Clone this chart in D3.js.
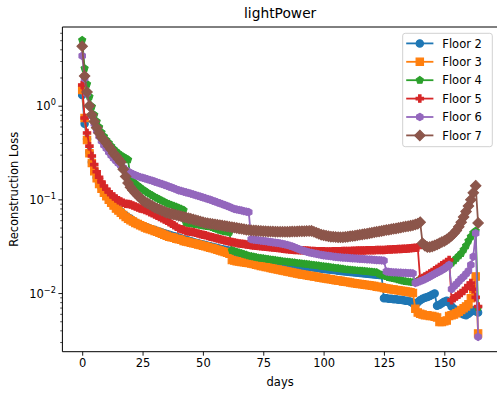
<!DOCTYPE html>
<html>
<head>
<meta charset="utf-8">
<script src="https://cdn.jsdelivr.net/npm/d3@7"></script>
<style>
  body { margin: 0; background: #fff; }
  svg { display: block; }
  text { font-family: "DejaVu Sans", sans-serif; fill: #000; }
</style>
</head>
<body>
<svg id="chart" width="497" height="394"></svg>
<script>
// Daily reconstruction loss of the lightPower sensor, one array per floor (day 0 .. 164)
const floor2 = [1.30,0.64,0.44,0.32,0.25,0.205,0.172,0.150,0.134,0.121,
0.111,0.102,0.095,0.089,0.083,0.078,0.074,0.070,0.067,0.064,
0.062,0.059,0.057,0.055,0.054,0.052,0.051,0.050,0.049,0.048,
0.047,0.046,0.045,0.0443,0.0435,0.0427,0.0420,0.0412,0.0405,0.0398,
0.0390,0.0383,0.0376,0.0370,0.0363,0.0357,0.0350,0.0345,0.0340,0.0334,
0.0330,0.0325,0.0320,0.0316,0.0311,0.0307,0.0302,0.0298,0.0294,0.0290,
0.0286,0.0282,0.0266,0.0262,0.0258,0.0255,0.0251,0.0248,0.0245,0.0242,
0.0239,0.0236,0.0233,0.0231,0.0228,0.0226,0.0224,0.0222,0.0220,0.0218,
0.0216,0.0214,0.0212,0.0210,0.0208,0.0206,0.0204,0.0202,0.0200,0.0198,
0.0196,0.0194,0.0193,0.0191,0.0190,0.0188,0.0187,0.0185,0.0184,0.0182,
0.0181,0.0180,0.0178,0.0177,0.0176,0.0175,0.0173,0.0172,0.0171,0.0170,
0.0169,0.0168,0.0167,0.0166,0.0165,0.0164,0.0163,0.0162,0.0161,0.0160,
0.0159,0.0158,0.0157,0.0156,0.0155,0.0088,0.0088,0.0087,0.0087,0.0086,
0.0086,0.0085,0.0085,0.0084,0.0083,0.0083,0.0081,0.0078,0.0075,0.0080,
0.0084,0.0087,0.0089,0.0091,0.0093,0.0096,0.0099,0.0073,0.0075,0.0078,
0.0081,0.0083,0.0079,0.0072,0.0068,0.0065,0.0063,0.0061,0.0059,0.0058,
0.0060,0.0063,0.0066,0.0064,0.0062];

const floor3 = [1.47,0.74,0.43,0.31,0.245,0.200,0.168,0.146,0.130,0.118,
0.108,0.099,0.092,0.086,0.080,0.076,0.072,0.068,0.065,0.062,
0.060,0.058,0.056,0.0545,0.053,0.0515,0.050,0.049,0.048,0.047,
0.046,0.045,0.044,0.043,0.042,0.041,0.040,0.0395,0.039,0.038,
0.0375,0.037,0.036,0.0355,0.035,0.0345,0.034,0.0335,0.033,0.0325,
0.032,0.0315,0.031,0.0305,0.030,0.0295,0.029,0.0285,0.028,0.0275,
0.027,0.0262,0.0225,0.0222,0.0219,0.0217,0.0215,0.0213,0.0211,0.0209,
0.0207,0.0204,0.0201,0.0198,0.0195,0.0193,0.0190,0.0188,0.0185,0.0183,
0.0181,0.0178,0.0176,0.0174,0.0172,0.0170,0.0168,0.0166,0.0164,0.0162,
0.0160,0.0158,0.0157,0.0155,0.0153,0.0152,0.0150,0.0149,0.0147,0.0146,
0.0144,0.0143,0.0141,0.0140,0.0139,0.0137,0.0136,0.0135,0.0133,0.0132,
0.0131,0.0130,0.0128,0.0127,0.0126,0.0125,0.0124,0.0123,0.0122,0.0121,
0.0120,0.0119,0.0117,0.0116,0.0115,0.0113,0.0112,0.0111,0.0110,0.0109,
0.0108,0.0107,0.0106,0.0105,0.0104,0.0103,0.0102,0.0100,0.0068,0.0062,
0.0060,0.0059,0.0058,0.0058,0.0057,0.0057,0.0056,0.0055,0.0049,0.0049,
0.0050,0.0051,0.0057,0.0058,0.0059,0.0061,0.0063,0.0066,0.0069,0.0072,
0.0076,0.0088,0.0110,0.0150,0.0037];

const floor4 = [5.0,2.5,1.70,1.25,0.98,0.80,0.68,0.59,0.52,0.47,
0.43,0.40,0.37,0.345,0.325,0.31,0.295,0.285,0.275,0.265,
0.165,0.155,0.147,0.140,0.134,0.128,0.123,0.118,0.114,0.110,
0.106,0.103,0.100,0.097,0.094,0.091,0.089,0.087,0.085,0.083,
0.081,0.079,0.077,0.056,0.0555,0.055,0.0545,0.054,0.0535,0.053,
0.0525,0.052,0.0515,0.051,0.050,0.049,0.048,0.047,0.046,0.0455,
0.045,0.0445,0.0285,0.0280,0.0275,0.0270,0.0265,0.0260,0.0255,0.0250,
0.0247,0.0244,0.0241,0.0238,0.0236,0.0234,0.0232,0.0230,0.0228,0.0226,
0.0224,0.0222,0.0220,0.0218,0.0217,0.0215,0.0214,0.0212,0.0211,0.0209,
0.0208,0.0206,0.0205,0.0203,0.0202,0.0200,0.0199,0.0197,0.0196,0.0194,
0.0193,0.0191,0.0190,0.0188,0.0187,0.0185,0.0184,0.0182,0.0181,0.0179,
0.0178,0.0177,0.0176,0.0175,0.0174,0.0173,0.0172,0.0171,0.0170,0.0169,
0.0168,0.0167,0.0166,0.0160,0.0156,0.0153,0.0150,0.0147,0.0145,0.0143,
0.0141,0.0139,0.0137,0.0135,0.0133,0.0132,0.0131,0.0130,0.0130,0.0135,
0.0140,0.0145,0.0148,0.0152,0.0156,0.0160,0.0165,0.0170,0.0175,0.0180,
0.0185,0.0192,0.0200,0.0210,0.0222,0.0235,0.0250,0.0265,0.0290,0.0320,
0.0360,0.0400,0.0440,0.0460,0.0070];

const floor5 = [1.66,0.74,0.51,0.37,0.29,0.235,0.197,0.172,0.153,0.139,
0.128,0.120,0.113,0.107,0.102,0.098,0.095,0.092,0.090,0.089,
0.088,0.086,0.084,0.082,0.080,0.079,0.077,0.075,0.073,0.071,
0.069,0.067,0.065,0.063,0.061,0.059,0.057,0.055,0.053,0.051,
0.049,0.048,0.047,0.046,0.0455,0.045,0.0445,0.044,0.0432,0.0425,
0.042,0.0413,0.0407,0.040,0.0394,0.0388,0.0382,0.0376,0.037,0.0365,
0.036,0.0355,0.035,0.0346,0.0342,0.0339,0.0336,0.0333,0.0330,0.0327,
0.0324,0.0322,0.0320,0.0318,0.0316,0.0314,0.0312,0.0310,0.0308,0.0306,
0.0304,0.0302,0.0300,0.0298,0.0296,0.0294,0.0292,0.0290,0.0289,0.0288,
0.0287,0.0286,0.0285,0.0284,0.0283,0.0282,0.0281,0.0280,0.0280,0.0279,
0.0279,0.0278,0.0278,0.0278,0.0279,0.0279,0.0280,0.0280,0.0281,0.0281,
0.0282,0.0282,0.0283,0.0283,0.0284,0.0284,0.0285,0.0285,0.0286,0.0286,
0.0287,0.0287,0.0288,0.0288,0.0289,0.0289,0.0290,0.0291,0.0292,0.0293,
0.0294,0.0295,0.0296,0.0297,0.0298,0.0299,0.0300,0.0302,0.0304,0.0306,
0.0140,0.0145,0.0150,0.0156,0.0162,0.0168,0.0175,0.0182,0.0190,0.0198,
0.0206,0.0215,0.0225,0.0084,0.0088,0.0092,0.0096,0.0100,0.0105,0.0112,
0.0120,0.0128,0.0110,0.0090,0.0072];

const floor6 = [3.4,1.95,1.35,1.00,0.78,0.64,0.54,0.47,0.42,0.38,
0.35,0.32,0.295,0.275,0.258,0.243,0.230,0.218,0.206,0.197,
0.192,0.186,0.181,0.177,0.173,0.170,0.167,0.164,0.161,0.158,
0.155,0.152,0.149,0.146,0.143,0.140,0.137,0.134,0.131,0.128,
0.125,0.123,0.121,0.119,0.117,0.115,0.113,0.111,0.109,0.107,
0.105,0.103,0.101,0.099,0.097,0.095,0.093,0.091,0.089,0.087,
0.085,0.083,0.081,0.079,0.078,0.077,0.076,0.075,0.074,0.073,
0.0375,0.0372,0.0369,0.0366,0.0363,0.0360,0.0357,0.0354,0.0351,0.0348,
0.0345,0.0342,0.0339,0.0335,0.0331,0.0326,0.0320,0.0314,0.0307,0.0300,
0.0293,0.0287,0.0281,0.0276,0.0272,0.0268,0.0265,0.0262,0.0259,0.0256,
0.0253,0.0251,0.0249,0.0247,0.0245,0.0243,0.0241,0.0240,0.0239,0.0238,
0.0237,0.0236,0.0235,0.0234,0.0233,0.0232,0.0231,0.0230,0.0229,0.0228,
0.0227,0.0226,0.0225,0.0224,0.0223,0.0222,0.0170,0.0168,0.0167,0.0166,
0.0166,0.0165,0.0165,0.0164,0.0164,0.0163,0.0163,0.0162,0.0128,0.0131,
0.0134,0.0137,0.0141,0.0145,0.0150,0.0155,0.0160,0.0165,0.0170,0.0176,
0.0182,0.0190,0.0200,0.0110,0.0118,0.0125,0.0133,0.0142,0.0150,0.0160,
0.0172,0.0200,0.0245,0.0435,0.0034];

const floor7 = [4.3,2.07,1.40,1.00,0.80,0.68,0.58,0.51,0.46,0.43,
0.40,0.37,0.34,0.31,0.29,0.27,0.25,0.21,0.175,0.150,
0.135,0.125,0.117,0.110,0.104,0.098,0.094,0.091,0.088,0.085,
0.082,0.080,0.078,0.076,0.074,0.072,0.071,0.070,0.069,0.068,
0.067,0.066,0.065,0.064,0.063,0.062,0.061,0.060,0.059,0.058,
0.057,0.056,0.0555,0.055,0.0545,0.054,0.0535,0.053,0.0525,0.052,
0.0515,0.051,0.0505,0.050,0.0495,0.049,0.0485,0.048,0.0475,0.047,
0.0468,0.0466,0.0464,0.0462,0.0460,0.0458,0.0456,0.0455,0.0454,0.0453,
0.0452,0.0451,0.0450,0.0450,0.0450,0.0451,0.0452,0.0453,0.0454,0.0455,
0.0456,0.0457,0.0458,0.0459,0.0460,0.0461,0.0450,0.0440,0.0430,0.0420,
0.0415,0.0410,0.0405,0.0400,0.0398,0.0396,0.0395,0.0394,0.0395,0.0397,
0.0400,0.0403,0.0406,0.0410,0.0414,0.0418,0.0422,0.0426,0.0430,0.0435,
0.0440,0.0445,0.0450,0.0455,0.0460,0.0465,0.0470,0.0475,0.0480,0.0485,
0.0490,0.0495,0.0500,0.0506,0.0512,0.0518,0.0524,0.0530,0.0540,0.0550,
0.0570,0.0340,0.0320,0.0310,0.0310,0.0315,0.0322,0.0330,0.0340,0.0350,
0.0360,0.0372,0.0390,0.0410,0.0435,0.0465,0.0510,0.0570,0.0650,0.0740,
0.0850,0.0990,0.1180,0.1400,0.0560];

const seriesNames = ["Floor 2", "Floor 3", "Floor 4", "Floor 5", "Floor 6", "Floor 7"];
const seriesValues = [floor2, floor3, floor4, floor5, floor6, floor7];
const seriesColors = ["#1f77b4", "#ff7f0e", "#2ca02c", "#d62728", "#9467bd", "#8c564b"];
const seriesMarkers = ["circle", "square", "pentagon", "plus", "hexagon", "diamond"];

const xTicks = [0, 25, 50, 75, 100, 125, 150];
const yMajorExps = [-2, -1, 0];
const titleText = "lightPower";
const xLabelText = "days";
const yLabelText = "Reconstruction Loss";

// ---- layout ----
const svg = d3.select("#chart");
const plot = { left: 62.4, right: 497.9, top: 27, bottom: 351.7 };

const x = d3.scaleLinear().domain([-8.2, 172.2]).range([plot.left, plot.right]);
const y = d3.scaleLog().domain([Math.pow(10, -2.626), Math.pow(10, 0.840)]).range([plot.bottom, plot.top]);

// marker shapes, size = nominal marker size in px
function markerPath(kind, s) {
  const r = s / 2;
  const p = d3.path();
  const poly = (n) => {
    for (let k = 0; k < n; k++) {
      const a = -Math.PI / 2 + k * 2 * Math.PI / n;
      const px = r * Math.cos(a), py = r * Math.sin(a);
      if (k === 0) p.moveTo(px, py); else p.lineTo(px, py);
    }
    p.closePath();
  };
  if (kind === "circle") { p.arc(0, 0, r, 0, 2 * Math.PI); p.closePath(); }
  else if (kind === "square") { p.rect(-r, -r, s, s); }
  else if (kind === "pentagon") { poly(5); }
  else if (kind === "hexagon") { poly(6); }
  else if (kind === "diamond") {
    const d = s * Math.SQRT1_2;
    p.moveTo(0, -d); p.lineTo(d, 0); p.lineTo(0, d); p.lineTo(-d, 0); p.closePath();
  } else if (kind === "plus") {
    const w = s / 6;
    p.moveTo(-w, -r); p.lineTo(w, -r); p.lineTo(w, -w); p.lineTo(r, -w); p.lineTo(r, w);
    p.lineTo(w, w); p.lineTo(w, r); p.lineTo(-w, r); p.lineTo(-w, w); p.lineTo(-r, w);
    p.lineTo(-r, -w); p.lineTo(-w, -w); p.closePath();
  }
  return p.toString();
}

const MARKER = 7.4, MARKER_EDGE = 1.1, LINE_W = 1.8;

svg.append("defs").append("clipPath").attr("id", "plotClip")
  .append("rect")
  .attr("x", plot.left).attr("y", plot.top)
  .attr("width", plot.right - plot.left).attr("height", plot.bottom - plot.top);

const body = svg.append("g").attr("clip-path", "url(#plotClip)");
const line = d3.line().x((d, i) => x(i)).y(d => y(d));

seriesValues.forEach((vals, si) => {
  const g = body.append("g");
  g.append("path")
    .attr("d", line(vals))
    .attr("fill", "none")
    .attr("stroke", seriesColors[si])
    .attr("stroke-width", LINE_W)
    .attr("stroke-linejoin", "round")
    .attr("stroke-linecap", "square");
  const mp = markerPath(seriesMarkers[si], MARKER);
  g.selectAll("path.m").data(vals).join("path")
    .attr("class", "m")
    .attr("d", mp)
    .attr("transform", (d, i) => `translate(${x(i)},${y(d)})`)
    .attr("fill", seriesColors[si])
    .attr("stroke", seriesColors[si])
    .attr("stroke-width", MARKER_EDGE)
    .attr("stroke-linejoin", "miter");
});

// ---- axes ----
const axisG = svg.append("g");
// spines
axisG.append("path")
  .attr("d", `M${plot.left},${plot.top}H${plot.right}M${plot.left},${plot.top}V${plot.bottom}H${plot.right}`)
  .attr("fill", "none").attr("stroke", "#000").attr("stroke-width", 1);

// x axis
const xAxis = d3.axisBottom(x).tickValues(xTicks).tickSize(4).tickPadding(3.5).tickFormat(d3.format("d"));
const xg = svg.append("g").attr("transform", `translate(0,${plot.bottom})`).call(xAxis);
xg.select(".domain").remove();
xg.selectAll(".tick line").attr("stroke", "#000").attr("stroke-width", 0.9);
xg.selectAll(".tick text").attr("font-size", 11.5).attr("font-family", "DejaVu Sans").attr("fill", "#000");

// y axis: minor ticks
const [yLo, yHi] = y.domain();
const minorVals = [];
for (let e = -3; e <= 0; e++) {
  for (let m = 2; m <= 9; m++) {
    const v = m * Math.pow(10, e);
    if (v >= yLo && v <= yHi) minorVals.push(v);
  }
}
const yMinor = d3.axisLeft(y).tickValues(minorVals).tickSize(2.2).tickFormat("");
const ymg = svg.append("g").attr("transform", `translate(${plot.left},0)`).call(yMinor);
ymg.select(".domain").remove();
ymg.selectAll(".tick line").attr("stroke", "#000").attr("stroke-width", 0.7);

const yMajor = d3.axisLeft(y).tickValues(yMajorExps.map(e => Math.pow(10, e))).tickSize(4).tickFormat("");
const yg = svg.append("g").attr("transform", `translate(${plot.left},0)`).call(yMajor);
yg.select(".domain").remove();
yg.selectAll(".tick line").attr("stroke", "#000").attr("stroke-width", 0.9);

// y tick labels as 10 with superscript exponent
yMajorExps.forEach(e => {
  const t = svg.append("text")
    .attr("x", plot.left - 6.5)
    .attr("y", y(Math.pow(10, e)) + 4.6)
    .attr("text-anchor", "end")
    .attr("font-size", 11.5);
  t.append("tspan").text("10");
  t.append("tspan").attr("font-size", 8.2).attr("dy", -5).text(e < 0 ? "\u2212" + Math.abs(e) : String(e));
});

// labels
svg.append("text").attr("x", (plot.left + plot.right) / 2).attr("y", 17.6)
  .attr("text-anchor", "middle").attr("font-size", 13.8).text(titleText);
svg.append("text").attr("x", (plot.left + plot.right) / 2).attr("y", 385.5)
  .attr("text-anchor", "middle").attr("font-size", 11.5).text(xLabelText);
svg.append("text")
  .attr("transform", `translate(17.8,${(plot.top + plot.bottom) / 2}) rotate(-90)`)
  .attr("text-anchor", "middle").attr("font-size", 11.5).text(yLabelText);

// ---- legend ----
const leg = svg.append("g");
leg.append("rect")
  .attr("x", 402.7).attr("y", 33.3).attr("width", 89.6).attr("height", 113.4)
  .attr("rx", 2.5).attr("ry", 2.5)
  .attr("fill", "#fff").attr("fill-opacity", 0.8)
  .attr("stroke", "#cccccc").attr("stroke-width", 0.9);
seriesNames.forEach((name, si) => {
  const cy = 43.4 + si * 18.4;
  const g = leg.append("g");
  g.append("line").attr("x1", 406.2).attr("x2", 433.4).attr("y1", cy).attr("y2", cy)
    .attr("stroke", seriesColors[si]).attr("stroke-width", LINE_W);
  g.append("path").attr("d", markerPath(seriesMarkers[si], MARKER))
    .attr("transform", `translate(419.8,${cy})`)
    .attr("fill", seriesColors[si]).attr("stroke", seriesColors[si]).attr("stroke-width", MARKER_EDGE);
  g.append("text").attr("x", 442.3).attr("y", cy + 4.2).attr("font-size", 11.5).text(name);
});
</script>
</body>
</html>
